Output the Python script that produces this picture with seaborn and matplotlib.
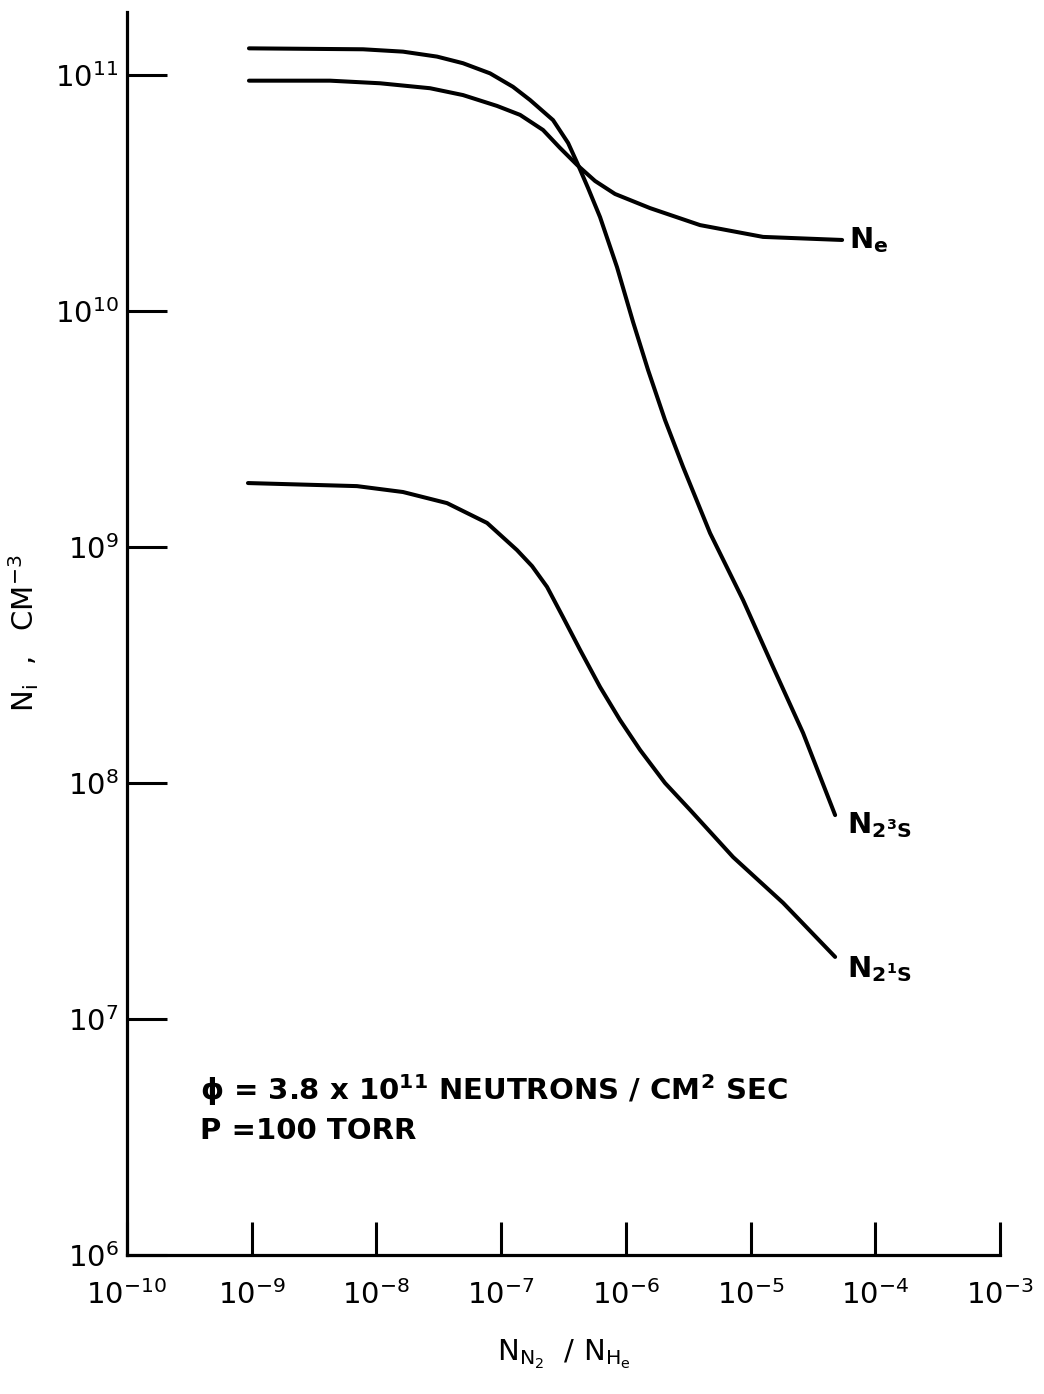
import numpy as np
import pandas as pd
import matplotlib
matplotlib.use("Agg")
import matplotlib.pyplot as plt
import seaborn as sns

# Curves read as decade exponents: log10(N_N2/N_He) and log10(density, cm^-3)
n23s_logx = [-9.022, -8.107, -7.787, -7.514, -7.306, -7.089, -6.905, -6.768, -6.584,
             -6.463, -6.383, -6.303, -6.207, -6.071, -5.942, -5.822, -5.686, -5.541,
             -5.325, -5.060, -4.820, -4.579, -4.322]
n23s_logy = [11.113, 11.109, 11.099, 11.078, 11.050, 11.007, 10.950, 10.894, 10.809,
             10.712, 10.619, 10.521, 10.398, 10.186, 9.953, 9.750, 9.538, 9.339,
             9.059, 8.775, 8.492, 8.212, 7.864]

ne_logx = [-9.022, -8.372, -7.971, -7.570, -7.306, -7.033, -6.848, -6.664, -6.528,
           -6.391, -6.247, -6.087, -5.806, -5.405, -4.900, -4.266]
ne_logy = [10.976, 10.976, 10.965, 10.944, 10.915, 10.869, 10.831, 10.767, 10.691,
           10.619, 10.551, 10.496, 10.436, 10.364, 10.314, 10.301]

n21s_logx = [-9.030, -8.156, -7.787, -7.434, -7.113, -6.873, -6.752, -6.632, -6.504,
             -6.367, -6.207, -6.047, -5.886, -5.686, -5.485, -5.140, -4.739, -4.322]
n21s_logy = [9.271, 9.258, 9.233, 9.186, 9.102, 8.987, 8.919, 8.831, 8.703,
             8.564, 8.407, 8.267, 8.140, 8.000, 7.886, 7.686, 7.492, 7.263]

series_names = ["N2 3S", "Ne", "N2 1S"]
x_ticks = [1e-10, 1e-9, 1e-8, 1e-7, 1e-6, 1e-5, 1e-4, 1e-3]
x_tick_labels = [r"$\mathregular{10^{-10}}$", r"$\mathregular{10^{-9}}$", r"$\mathregular{10^{-8}}$",
                 r"$\mathregular{10^{-7}}$", r"$\mathregular{10^{-6}}$", r"$\mathregular{10^{-5}}$",
                 r"$\mathregular{10^{-4}}$", r"$\mathregular{10^{-3}}$"]
y_ticks = [1e6, 1e7, 1e8, 1e9, 1e10, 1e11]
y_tick_labels = [r"$\mathregular{10^{6}}$", r"$\mathregular{10^{7}}$", r"$\mathregular{10^{8}}$",
                 r"$\mathregular{10^{9}}$", r"$\mathregular{10^{10}}$", r"$\mathregular{10^{11}}$"]


def to_frame(logx, logy, name):
    return pd.DataFrame({"ratio": np.power(10.0, logx),
                         "density": np.power(10.0, logy),
                         "species": name})


df = pd.concat([
    to_frame(n23s_logx, n23s_logy, series_names[0]),
    to_frame(ne_logx, ne_logy, series_names[1]),
    to_frame(n21s_logx, n21s_logy, series_names[2]),
], ignore_index=True)

sns.set_theme(style="white")
plt.rcParams["font.family"] = ["DejaVu Sans"]
plt.rcParams["mathtext.fontset"] = "dejavusans"
for key in ["text.color", "axes.labelcolor", "xtick.color", "ytick.color", "axes.edgecolor"]:
    plt.rcParams[key] = "black"

fig = plt.figure(figsize=(10.44, 13.94), dpi=100)
ax = fig.add_axes([127 / 1044, 139 / 1394, (1000 - 127) / 1044, (1382 - 139) / 1394])
ax.set_xscale("log")
ax.set_yscale("log")

sns.lineplot(data=df, x="ratio", y="density", hue="species", units="species",
             estimator=None, sort=False, palette=["black"] * 3, linewidth=2.9,
             legend=False, ax=ax)
for line in ax.get_lines():
    line.set_solid_joinstyle("round")
    line.set_solid_capstyle("round")

ax.set_xlim(1e-10, 1e-3)
ax.set_ylim(1e6, 10 ** 11.267)

for side in ["top", "right"]:
    ax.spines[side].set_visible(False)
for side in ["left", "bottom"]:
    ax.spines[side].set_color("black")
    ax.spines[side].set_linewidth(2.3)

ax.set_xticks(x_ticks)
ax.set_xticklabels(x_tick_labels)
ax.set_yticks(y_ticks)
ax.set_yticklabels(y_tick_labels)
ax.minorticks_off()
ax.tick_params(axis="x", direction="in", length=24, width=2.2, color="black",
               labelsize=21, pad=18, bottom=True)
ax.tick_params(axis="y", direction="in", length=29, width=2.2, color="black",
               labelsize=21, pad=6, left=True)

ax.set_xlabel(r"$\mathregular{N_{N_2}\ \ /\ N_{H_e}}$", fontsize=21, labelpad=20)
ax.set_ylabel(r"$\mathregular{N_{i}\ \ ,\ \ CM^{-3}}$", fontsize=21, labelpad=10)

# curve labels at the right-hand ends
ax.text(6.2e-5, 2.0e10, r"$\mathregular{N_e}$", fontsize=21, fontweight="bold",
        va="center", ha="left")
ax.text(5.9e-5, 6.6e7, r"$\mathregular{N_{2^{3}S}}$", fontsize=21, fontweight="bold",
        va="center", ha="left")
ax.text(5.9e-5, 1.62e7, r"$\mathregular{N_{2^{1}S}}$", fontsize=21, fontweight="bold",
        va="center", ha="left")

# run conditions
fig.text(200 / 1044, (1394 - 1100) / 1394,
         r"ϕ = 3.8 x 10$\mathregular{^{11}}$ NEUTRONS / CM$\mathregular{^{2}}$ SEC",
         fontsize=21, fontweight="bold", ha="left", va="baseline")
fig.text(200 / 1044, (1394 - 1139) / 1394, "P =100 TORR",
         fontsize=21, fontweight="bold", ha="left", va="baseline")

fig.savefig("out.png", dpi=100, facecolor="white")
